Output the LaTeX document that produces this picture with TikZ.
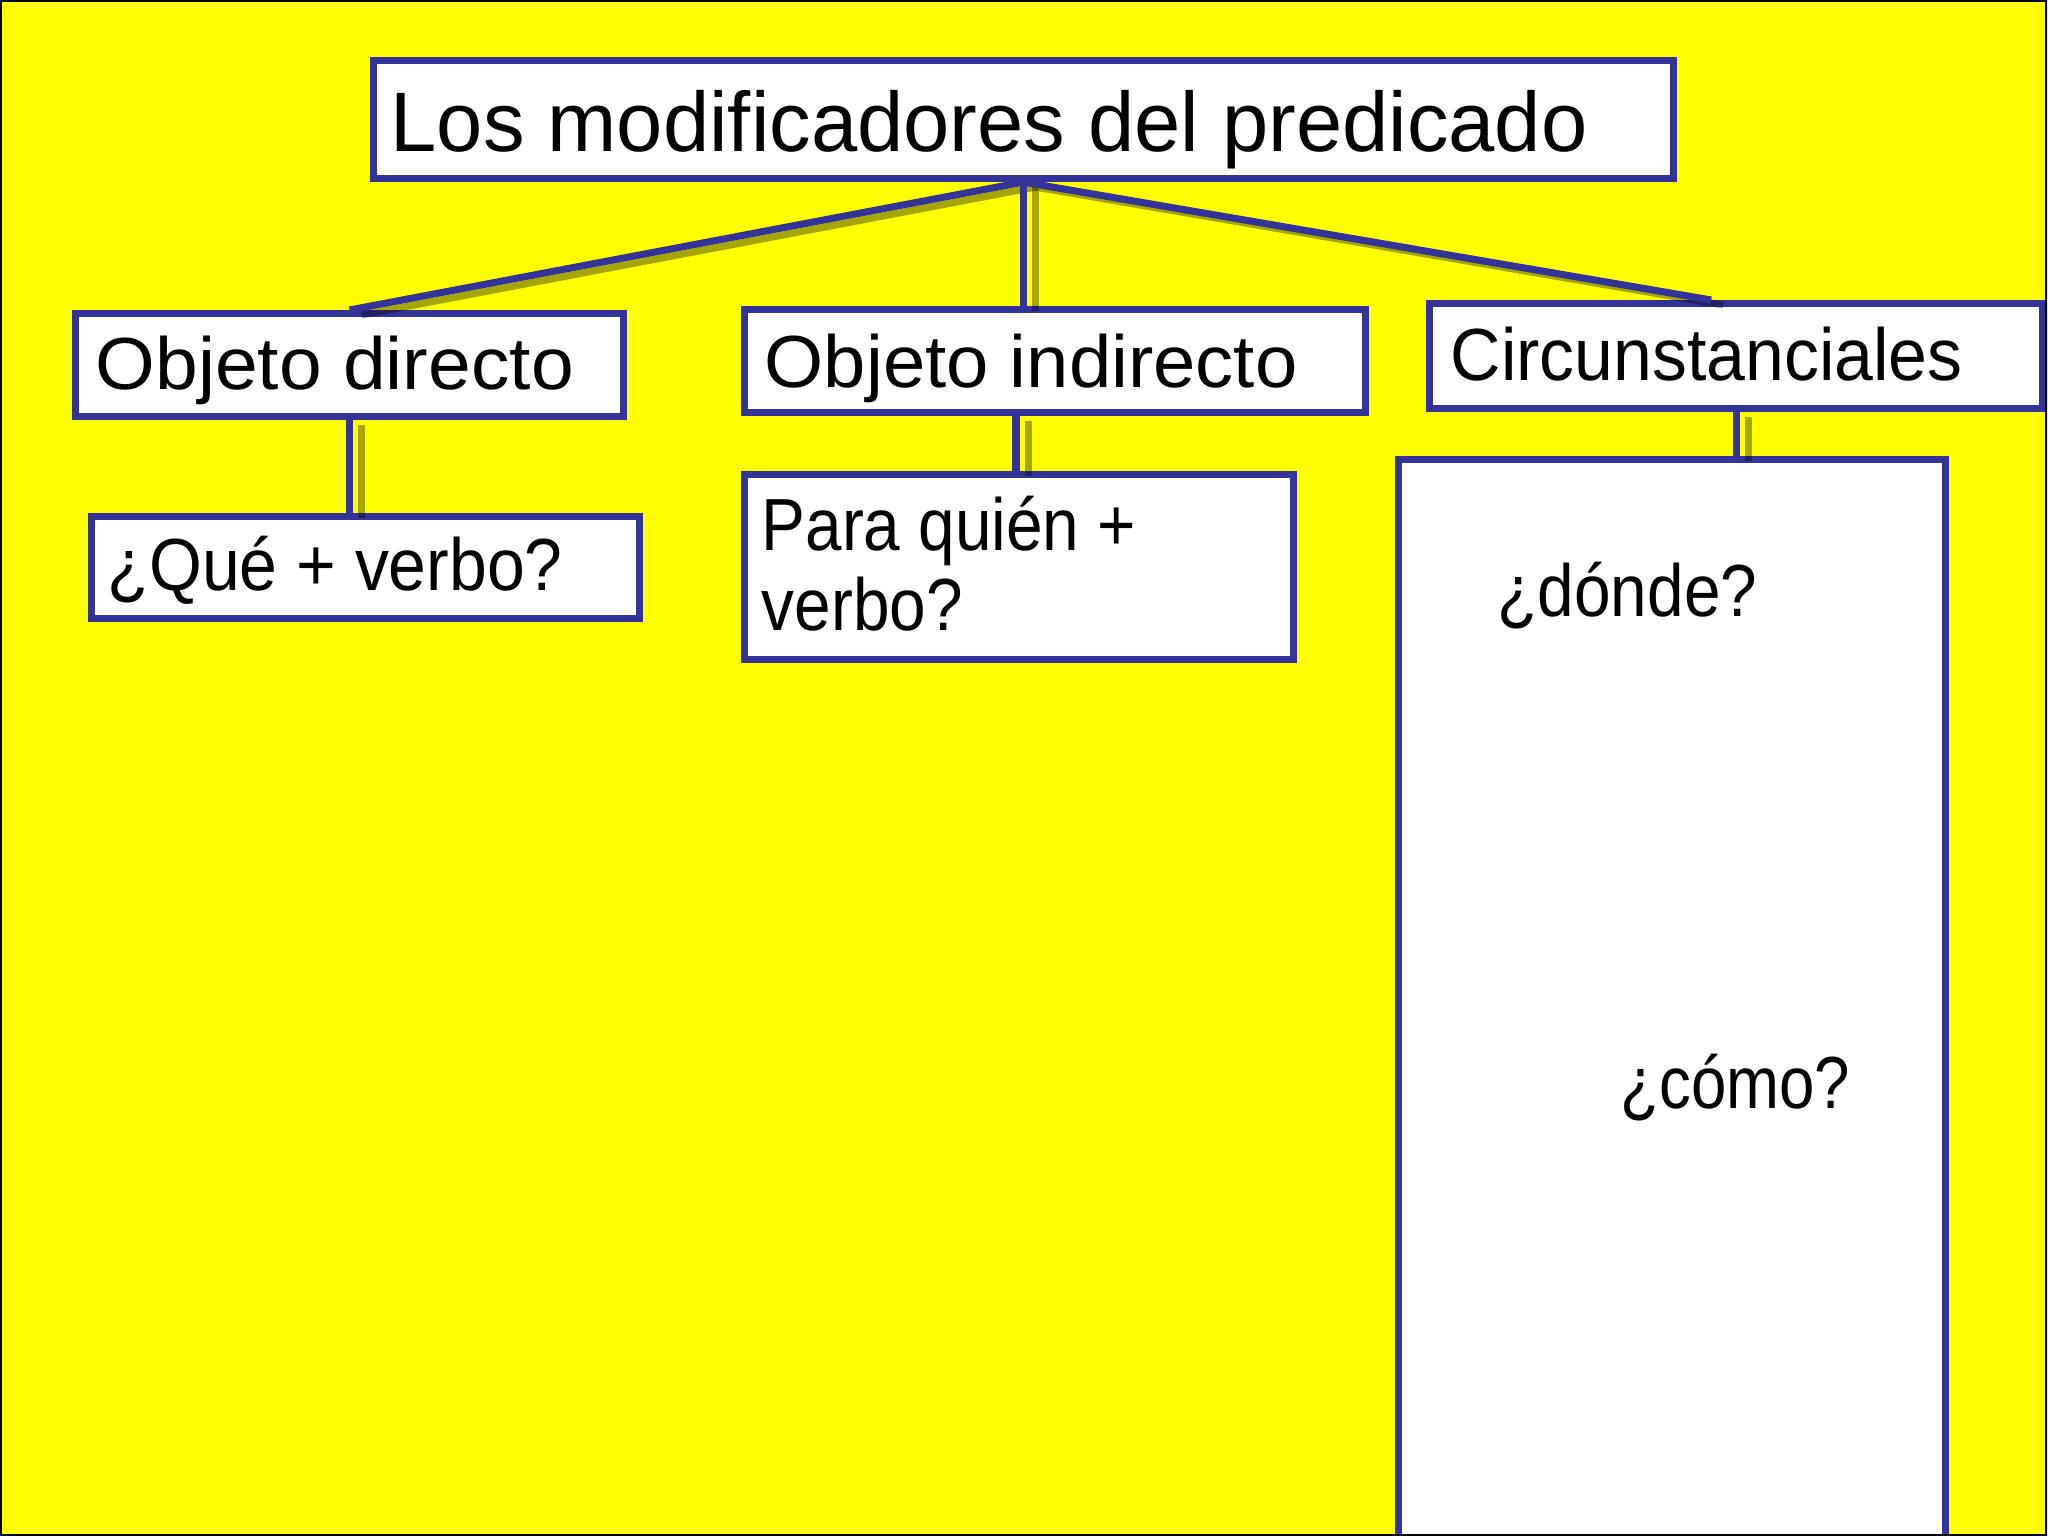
\documentclass[tikz,border=0pt]{standalone}
\usepackage{fontspec}
\setmainfont{Liberation Sans}
\usetikzlibrary{calc}
\definecolor{bg}{RGB}{255,255,0}
\definecolor{edge}{RGB}{51,51,153}
\begin{document}
\begin{tikzpicture}[x=0.01cm,y=-0.01cm,
 box/.style={draw=edge,line width=2pt,fill=white,rectangle,inner sep=0pt,anchor=north west},
 txt/.style={inner sep=0pt,anchor=base west,font=\fontsize{21}{25}\selectfont},
 titletxt/.style={inner sep=0pt,anchor=base west,font=\fontsize{24}{28}\selectfont},
 link/.style={draw=edge,line width=2pt},
 shade/.style={draw=black,opacity=0.35,line width=2pt,transform canvas={xshift=0.12cm,yshift=-0.05cm}}]
\useasboundingbox (0,0) rectangle (2048,1536);
\fill[bg] (0,0) rectangle (2048,1536);
\begin{scope}
\clip (0,0) rectangle (2048,1536);
\node[box,minimum width=12.99cm,minimum height=1.18cm] (title) at (370,57) {};
\node[box,minimum width=5.48cm,minimum height=1.03cm] (od) at (72,310) {};
\node[box,minimum width=6.21cm,minimum height=1.03cm] (oi) at (741,306) {};
\node[box,minimum width=6.13cm,minimum height=1.05cm] (ci) at (1426,300) {};
\node[box,minimum width=5.48cm,minimum height=1.02cm] (qv) at (88,513) {};
\node[box,minimum width=5.49cm,minimum height=1.85cm] (pq) at (741,471) {};
\node[box,minimum width=5.47cm,minimum height=11.2cm] (big) at (1395,456) {};

\coordinate (oimid) at ($(oi.south west)+(275,0)$);
\coordinate (ciend) at ($(ci.north)+(-25,0)$);

\draw[shade] (title.south) -- (od.north);
\draw[shade] (title.south) -- (title.south |- oi.north);
\draw[shade] (title.south) -- (ciend);
\draw[shade] (od.south) -- (od.south |- qv.north);
\draw[shade] (oimid) -- (oimid |- pq.north);
\draw[shade] (ci.south) -- (ci.south |- big.north);

\draw[link] (title.south) -- (od.north);
\draw[link] (title.south) -- (title.south |- oi.north);
\draw[link] (title.south) -- (ciend);
\draw[link] (od.south) -- (od.south |- qv.north);
\draw[link] (oimid) -- (oimid |- pq.north);
\draw[link] (ci.south) -- (ci.south |- big.north);

\node[titletxt] (t0) at (390,151) {\scalebox{0.985}[1]{Los modificadores del predicado}};
\node[txt] (t1) at (95,389) {\scalebox{1.04}[1]{Objeto directo}};
\node[txt] (t2) at (764,387) {\scalebox{1.03}[1]{Objeto indirecto}};
\node[txt] (t3) at (1450,380) {\scalebox{0.945}[1]{Circunstanciales}};
\node[txt] (t4) at (107,590) {\scalebox{0.92}[1]{¿Qué + verbo?}};
\node[txt] (t5) at (761,550) {\scalebox{0.89}[1]{Para quién +}};
\node[txt] (t6) at (761,630) {\scalebox{0.89}[1]{verbo?}};
\node[txt] (t7) at (1497,616) {\scalebox{0.89}[1]{¿dónde?}};
\node[txt] (t8) at (1620,1108) {\scalebox{0.86}[1]{¿cómo?}};
\end{scope}
\draw[black,line width=0.8pt] (1,1) rectangle (2046,1535);
\end{tikzpicture}
\end{document}
